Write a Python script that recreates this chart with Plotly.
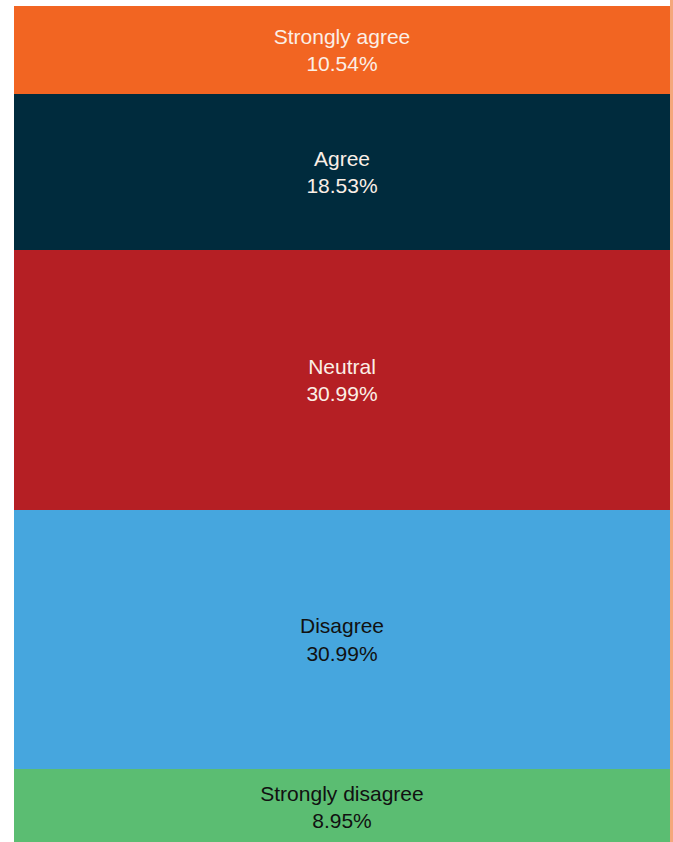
import plotly.graph_objects as go

categories = ["Strongly disagree", "Disagree", "Neutral", "Agree", "Strongly agree"]
values = [8.95, 30.99, 30.99, 18.53, 10.54]
colors = ["#5BBD72", "#46A6DE", "#B51F24", "#002B3D", "#F26522"]
text_colors = ["#111111", "#111111", "#FBEFE6", "#FBEFE6", "#FBEFE6"]

fig = go.Figure()
for cat, val, col, tcol in zip(categories, values, colors, text_colors):
    fig.add_trace(go.Bar(
        x=["Response"], y=[val], name=cat,
        marker=dict(color=col, line=dict(width=0)),
        text=[f"{cat}<br>{val:.2f}%"],
        textposition="inside", insidetextanchor="middle",
        textangle=0, constraintext="none",
        textfont=dict(family="Liberation Sans, Arial, sans-serif", size=21, color=tcol),
        hoverinfo="skip",
    ))

fig.update_layout(
    barmode="stack", bargap=0, showlegend=False,
    width=673, height=842,
    margin=dict(l=14, r=3, t=6, b=0),
    paper_bgcolor="white", plot_bgcolor="white",
    xaxis=dict(visible=False),
    yaxis=dict(visible=False, range=[0.3, 100]),
    shapes=[dict(type="rect", xref="paper", yref="paper", x0=1.0, x1=1.006,
                 y0=0, y1=1.01, fillcolor="#F5A77B", line=dict(width=0), layer="above")],
    uniformtext=dict(minsize=8, mode="show"),
)

fig.write_html("out.html", config={"displayModeBar": False},
               post_script="document.body.style.margin='0';document.body.style.overflow='hidden';")
